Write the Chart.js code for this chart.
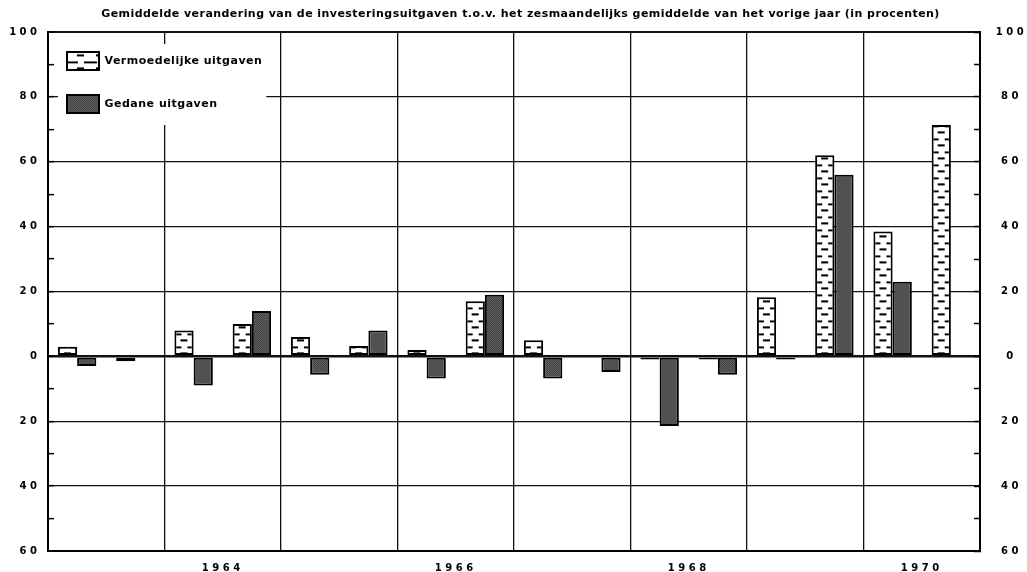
<!DOCTYPE html>
<html>
<head>
<meta charset="utf-8">
<script src="https://cdn.jsdelivr.net/npm/chart.js@4/dist/chart.umd.min.js"></script>
<style>
html,body{margin:0;padding:0;background:#fff;}
#wrap{width:1027px;height:572px;position:relative;}
</style>
</head>
<body>
<div id="wrap"><canvas id="c"></canvas></div>
<script>
// ---- data ----
const titleText = 'Gemiddelde verandering van de investeringsuitgaven t.o.v. het zesmaandelijks gemiddelde van het vorige jaar (in procenten)';
const seriesNames = ['Vermoedelijke uitgaven', 'Gedane uitgaven'];
const halfYears = ['1963-I','1963-II','1964-I','1964-II','1965-I','1965-II','1966-I','1966-II',
                   '1967-I','1967-II','1968-I','1968-II','1969-I','1969-II','1970-I','1970-II'];
const expected = [3, -1.5, 8, 10, 6, 3.2, 2, 17, 5, null, -1, -1, 18.2, 62, 38.5, 71.3];
const actual   = [-3, null, -9, 14, -5.7, 8, -6.8, 19, -6.8, -4.8, -21.5, -5.7, -1, 56, 23, null];
const yearLabels = ['', '1964', '', '1966', '', '1968', '', '1970'];
const yTickValues = [-60, -40, -20, 0, 20, 40, 60, 80, 100];
const yTickLabels = ['60', '40', '20', '0', '20', '40', '60', '80', '100'];

// ---- fill patterns ----
function makeDashTile() {
  const c = document.createElement('canvas');
  c.width = 19; c.height = 13;
  const g = c.getContext('2d');
  g.fillStyle = '#fff'; g.fillRect(0, 0, 19, 13);
  g.fillStyle = '#000';
  g.fillRect(0, 3, 7, 2);
  g.fillRect(13, 3, 6, 2);
  g.fillRect(6, 9, 7, 2);
  return c;
}
function makeStippleTile() {
  const c = document.createElement('canvas');
  c.width = 2; c.height = 2;
  const g = c.getContext('2d');
  g.fillStyle = '#8f8f8f'; g.fillRect(0, 0, 2, 2);
  g.fillStyle = '#141414'; g.fillRect(0, 0, 1, 1); g.fillRect(1, 1, 1, 1);
  return c;
}
const DASH_TILE = makeDashTile();
const STIPPLE_TILE = makeStippleTile();

function barFill(tile, side) {
  return (ctx) => {
    const chart = ctx.chart;
    const p = chart.ctx.createPattern(tile, 'repeat');
    const xs = chart.scales && chart.scales.x;
    const ys = chart.scales && chart.scales.y;
    let ox = 0, oy = 0;
    if (ctx.type === 'data' && xs && xs.width) {
      const c = xs.getPixelForValue(ctx.dataIndex);
      const w = xs.width / halfYears.length * 0.66 / 2;
      ox = side === 0 ? c - w : c;
      oy = ys ? ys.getPixelForValue(0) : 0;
    } else if (chart.chartArea) {
      ox = chart.chartArea.left + 19;
      oy = chart.chartArea.top + 20;
    }
    if (p && p.setTransform) p.setTransform(new DOMMatrix().translate(ox, oy));
    return p;
  };
}

const FONT = '"DejaVu Sans", "Liberation Sans", sans-serif';
const TICK_SPACING = '3.5px';

function zeroPad(s) { s.paddingTop = 0; s.paddingBottom = 0; s.paddingLeft = 0; s.paddingRight = 0; }

const tweaks = {
  id: 'tweaks',
  afterInit(chart) {
    const lg = chart.legend;
    if (lg && !lg._wrapped) {
      const od = lg.draw;
      lg.draw = function () {
        const c = chart.ctx;
        const ca = chart.chartArea;
        const hb = this.legendHitBoxes || [];
        c.save();
        c.letterSpacing = '0.5px';
        if (hb.length) {
          c.translate(ca.left + 19 - hb[0].left, ca.top + 20 - hb[0].top);
          let l = Infinity, t = Infinity, r = -Infinity, b = -Infinity;
          hb.forEach(h => { l = Math.min(l, h.left); t = Math.min(t, h.top); r = Math.max(r, h.left + h.width); b = Math.max(b, h.top + h.height); });
          c.fillStyle = '#fff';
          c.fillRect(l - 9, t - 8, (r - l) + 24, (b - t) + 20);
        }
        od.apply(this, arguments);
        c.restore();
      };
      lg._wrapped = true;
    }
    const tb = chart.titleBlock;
    if (tb && !tb._wrapped) {
      const od2 = tb.draw;
      tb.draw = function () {
        const c = chart.ctx;
        c.save();
        c.letterSpacing = '0.45px';
        c.translate(7, 0);
        od2.apply(this, arguments);
        c.restore();
      };
      tb._wrapped = true;
    }
  },
  beforeUpdate(chart) { chart.ctx.letterSpacing = '0px'; },
  beforeDraw(chart) { chart.ctx.letterSpacing = TICK_SPACING; },
  afterDraw(chart) { chart.ctx.letterSpacing = '0px'; }
};

const yLabel = (v) => { const i = yTickValues.indexOf(v); return i >= 0 ? yTickLabels[i] : ''; };
const isMajor = (ctx) => ctx.tick && yTickValues.indexOf(ctx.tick.value) >= 0;

new Chart(document.getElementById('c'), {
  type: 'bar',
  data: {
    labels: halfYears,
    datasets: [
      {
        label: seriesNames[0],
        data: expected,
        backgroundColor: barFill(DASH_TILE, 0),
        borderColor: '#000',
        borderWidth: 2,
        borderSkipped: false,
        categoryPercentage: 0.66,
        barPercentage: 1.0,
        xAxisID: 'x', yAxisID: 'y'
      },
      {
        label: seriesNames[1],
        data: actual,
        backgroundColor: barFill(STIPPLE_TILE, 1),
        borderColor: '#000',
        borderWidth: 2,
        borderSkipped: false,
        categoryPercentage: 0.66,
        barPercentage: 1.0,
        xAxisID: 'x', yAxisID: 'y'
      }
    ]
  },
  options: {
    responsive: true,
    maintainAspectRatio: false,
    animation: false,
    layout: { padding: 0 },
    plugins: {
      title: {
        display: true,
        text: titleText,
        color: '#000',
        font: { family: FONT, size: 11, weight: 'bold', lineHeight: 1.2 },
        padding: { top: 8, bottom: 10.8 }
      },
      legend: {
        display: true,
        position: 'chartArea',
        align: 'start',
        labels: {
          boxWidth: 32,
          boxHeight: 18,
          padding: 25,
          color: '#000',
          font: { family: FONT, size: 11, weight: 'bold' }
        }
      },
      tooltip: { enabled: false }
    },
    scales: {
      x: {
        type: 'category',
        display: false,
        offset: true,
        grid: { offset: true },
        afterFit(s) { zeroPad(s); }
      },
      x2: {
        type: 'category',
        labels: yearLabels,
        position: 'bottom',
        offset: true,
        grid: { offset: true, display: true, color: '#111', lineWidth: 1.3, drawTicks: false, z: -1 },
        border: { display: true, color: '#000', width: 2 },
        ticks: {
          autoSkip: false, maxRotation: 0, padding: 11, color: '#000',
          font: { family: FONT, size: 10, weight: 'bold' }
        },
        afterFit(s) { s.height = 21; zeroPad(s); }
      },
      y: {
        type: 'linear',
        position: 'left',
        min: -60, max: 100,
        grid: {
          z: -1,
          color: (ctx) => isMajor(ctx) ? '#111' : 'rgba(0,0,0,0)',
          tickColor: '#000',
          lineWidth: (ctx) => ctx.tick && ctx.tick.value === 0 ? 2.6 : (ctx.tick && (ctx.tick.value === -60 || ctx.tick.value === 100) ? 2 : 1.3),
          tickWidth: 1.5,
          tickLength: -6,
          drawTicks: true
        },
        border: { display: true, color: '#000', width: 2 },
        ticks: {
          stepSize: 10,
          autoSkip: false,
          padding: 13.5,
          color: '#000',
          font: { family: FONT, size: 10, weight: 'bold' },
          callback: (v) => yLabel(v)
        },
        afterFit(s) { s.width = 48; zeroPad(s); }
      },
      y2: {
        type: 'linear',
        position: 'right',
        min: -60, max: 100,
        grid: {
          z: -1,
          drawOnChartArea: false,
          tickColor: '#000',
          tickWidth: 1.5,
          tickLength: -6,
          drawTicks: true
        },
        border: { display: true, color: '#000', width: 2 },
        ticks: {
          stepSize: 10,
          autoSkip: false,
          padding: 27,
          crossAlign: 'center',
          color: '#000',
          font: { family: FONT, size: 10, weight: 'bold' },
          callback: (v) => yLabel(v)
        },
        afterFit(s) { s.width = 47; zeroPad(s); }
      }
    }
  },
  plugins: [tweaks]
});
</script>
</body>
</html>
